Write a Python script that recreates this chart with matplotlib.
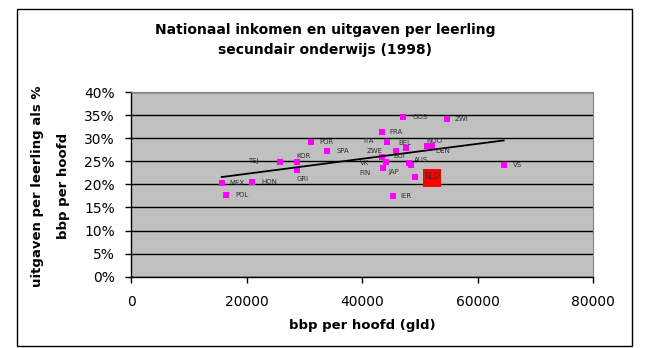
import numpy as np
import matplotlib
matplotlib.use('Agg')
from matplotlib import pyplot as plt
from matplotlib.patches import Rectangle
from matplotlib.ticker import FuncFormatter

# bbp per hoofd (gld) and uitgaven per leerling as % of bbp per hoofd
landen = ['MEX', 'POL', 'HON', 'TSJ', 'KOR', 'GRI', 'POR', 'SPA', 'OOS', 'ZWI',
          'FRA', 'ITA', 'ZWE', 'BEL', 'NOO', 'DEN', 'VK', 'BUI', 'FIN', 'JAP',
          'AUS', 'NLD', 'IER', 'VS']
bbp = [15710, 16450, 20950, 25800, 28690, 28690, 31120, 33990, 47150, 54720,
       43410, 44330, 45840, 47570, 51200, 52170, 43510, 44160, 43580, 48090,
       48540, 49230, 45320, 64540]
uitgaven = [20.2, 17.7, 20.6, 24.8, 24.8, 23.1, 29.2, 27.2, 34.6, 34.2,
            31.3, 29.2, 27.3, 27.8, 28.3, 28.3, 26.0, 24.9, 23.5, 24.7,
            24.2, 21.6, 17.5, 24.1]

# Nederland highlighted separately
nld_bbp = [52170]
nld_uitgaven = [21.4]

# label offsets in pixels (dx, dy) and alignment per country
label_pos = {
    'MEX': (8, 0, 'left'), 'POL': (9, 0, 'left'), 'HON': (9, 0, 'left'),
    'TSJ': (-21, 1, 'right'), 'KOR': (0, 6, 'left'), 'GRI': (0, -9, 'left'),
    'POR': (9, 0, 'left'), 'SPA': (9, 0, 'left'), 'OOS': (9, 0, 'left'),
    'ZWI': (8, 0, 'left'), 'FRA': (8, 0, 'left'), 'ITA': (-13, 1, 'right'),
    'ZWE': (-13, 0, 'right'), 'BEL': (-1, 5, 'center'), 'NOO': (0, 5, 'left'),
    'DEN': (3, -5, 'left'), 'VK': (-13, -6, 'right'), 'BUI': (7, 6, 'left'),
    'FIN': (-12, -5, 'right'), 'JAP': (-20, -9, 'left'), 'AUS': (3, 5, 'left'),
    'IER': (8, 0, 'left'), 'VS': (9, 0, 'left'),
}

W, H = 652, 348
fig = plt.figure(figsize=(W / 100, H / 100), dpi=100)
fig.patch.set_facecolor('white')

# outer chart border
fig.add_artist(Rectangle((16.5 / W, 2 / H), 615.5 / W, 337.5 / H,
                         transform=fig.transFigure, fill=False,
                         edgecolor='black', linewidth=1.0))

ax = fig.add_axes([131 / W, 71.3 / H, 462 / W, 184.7 / H])
ax.set_facecolor('#C0C0C0')

ax.scatter(bbp, uitgaven, marker='s', s=20, color='#FF00FF', linewidths=0, zorder=3)
ax.scatter(nld_bbp, nld_uitgaven, marker='s', s=175, color='#FF0000', linewidths=0, zorder=3)

# linear trend line
a, b = np.polyfit(bbp, uitgaven, 1)
xs = np.array([min(bbp), max(bbp)])
ax.plot(xs, a * xs + b, color='black', linewidth=1.3, zorder=4)

for land, x, y in zip(landen, bbp, uitgaven):
    if land == 'NLD':
        continue
    dx, dy, ha = label_pos[land]
    ax.annotate(land, (x, y), xytext=(dx, dy), textcoords='offset pixels',
                ha=ha, va='center', fontsize=5, color='#303030', zorder=5)
ax.annotate('NLD', (nld_bbp[0], nld_uitgaven[0]), xytext=(0, 1),
            textcoords='offset pixels', ha='center', va='center',
            fontsize=5.5, color='#303030', zorder=5)

ax.set_xlim(0, 80000)
ax.set_ylim(0, 40)
ax.set_xticks(np.arange(0, 80001, 20000))
ax.set_yticks(np.arange(0, 41, 5))
ax.yaxis.set_major_formatter(FuncFormatter(lambda v, p: f'{v:.0f}%'))
ax.grid(axis='y', color='black', linewidth=1.0)
ax.set_axisbelow(True)
ax.tick_params(axis='both', direction='out', length=4.5, width=1.0,
               labelsize=10, color='black')
ax.tick_params(axis='y', pad=7)
ax.tick_params(axis='x', pad=9)
for side in ['top', 'right']:
    ax.spines[side].set_color('#808080')
for side in ['left', 'bottom']:
    ax.spines[side].set_color('black')
    ax.spines[side].set_linewidth(1.0)

fig.text(325 / W, 1 - 30 / H, 'Nationaal inkomen en uitgaven per leerling',
         ha='center', va='center', fontsize=10, fontweight='bold')
fig.text(325 / W, 1 - 50 / H, 'secundair onderwijs (1998)',
         ha='center', va='center', fontsize=10, fontweight='bold')
fig.text(37.5 / W, 1 - 186 / H, 'uitgaven per leerling als %',
         ha='center', va='center', rotation=90, fontsize=9.5, fontweight='bold')
fig.text(63.5 / W, 1 - 186 / H, 'bbp per hoofd',
         ha='center', va='center', rotation=90, fontsize=9.5, fontweight='bold')
fig.text(362 / W, 1 - 326 / H, 'bbp per hoofd (gld)',
         ha='center', va='center', fontsize=9.5, fontweight='bold')

fig.savefig('out.png', dpi=100)
